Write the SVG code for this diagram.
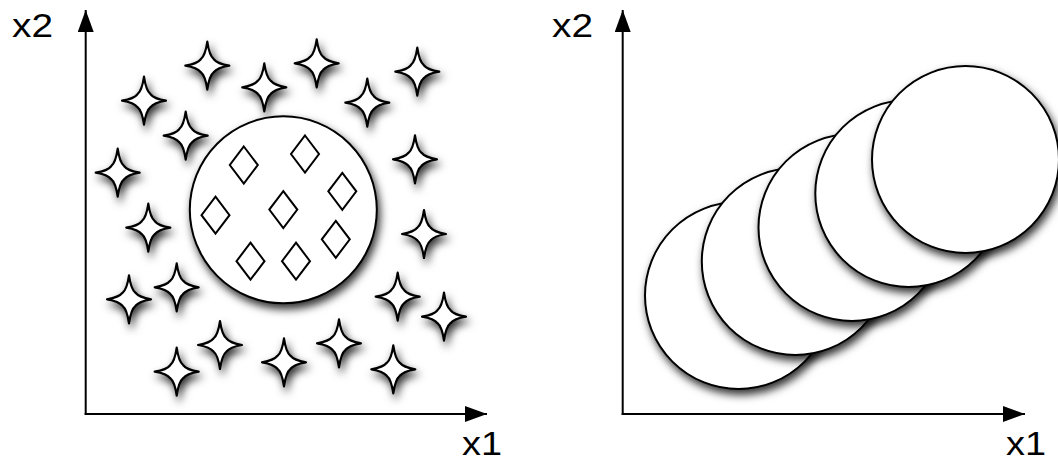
<svg xmlns="http://www.w3.org/2000/svg" xmlns:xlink="http://www.w3.org/1999/xlink" width="1058" height="462" viewBox="0 0 1058 462">
  <defs>
    <filter id="sh" x="-50%" y="-50%" width="200%" height="200%">
      <feDropShadow dx="2.5" dy="5" stdDeviation="4" flood-color="#000" flood-opacity="0.8"/>
    </filter>
    <path id="star" d="M0,-24 Q2,-10 6.5,-6.5 Q10,-2 22,0 Q10,2 6.5,6.5 Q2,10 0,24 Q-2,10 -6.5,6.5 Q-10,2 -22,0 Q-10,-2 -6.5,-6.5 Q-2,-10 0,-24 Z"/>
    <path id="dia" d="M0,-18.5 L14,0 L0,18.5 L-14,0 Z"/>
    <marker id="ah" viewBox="0 0 22 16" refX="22" refY="8" markerWidth="22" markerHeight="16" markerUnits="userSpaceOnUse" orient="auto">
      <path d="M0,0 L22,8 L0,16 Z" fill="#000"/>
    </marker>
  </defs>
  <style>
    .star { fill: #fff; stroke: #000; stroke-width: 2.2; stroke-linejoin: round; filter: url(#sh); }
    .dia { fill: #fff; stroke: #000; stroke-width: 2; }
    .blob { fill: #fff; stroke: #000; stroke-width: 2; filter: url(#sh); }
    .axis { fill: none; stroke: #000; stroke-width: 2; marker-end: url(#ah); }
    .lbl { font-family: "Liberation Sans", Arial, Helvetica, sans-serif; font-size: 33px; fill: #000; }
  </style>
  <rect width="1058" height="462" fill="#fff"/>

  <g id="connectors">
    <path class="axis" d="M85.7,415 L85.7,10"/>
    <path class="axis" d="M84.7,414 L487,414"/>
    <path class="axis" d="M622.7,415 L622.7,10"/>
    <path class="axis" d="M621.7,414 L1025,414"/>
  </g>

  <g id="labels">
    <text id="left-x2" class="lbl" x="12" y="37" textLength="41" lengthAdjust="spacingAndGlyphs">x2</text>
    <text id="left-x1" class="lbl" x="462" y="455" textLength="40" lengthAdjust="spacingAndGlyphs">x1</text>
    <text id="right-x2" class="lbl" x="552" y="37" textLength="41" lengthAdjust="spacingAndGlyphs">x2</text>
    <text id="right-x1" class="lbl" x="1006" y="455" textLength="40" lengthAdjust="spacingAndGlyphs">x1</text>
  </g>

  <g id="stars">
    <use id="star1" class="star" href="#star" xlink:href="#star" x="207.3" y="65.7"/>
    <use id="star2" class="star" href="#star" xlink:href="#star" x="144" y="100.7"/>
    <use id="star3" class="star" href="#star" xlink:href="#star" x="264.3" y="87.3"/>
    <use id="star4" class="star" href="#star" xlink:href="#star" x="316.7" y="63.3"/>
    <use id="star5" class="star" href="#star" xlink:href="#star" x="417.3" y="71.7"/>
    <use id="star6" class="star" href="#star" xlink:href="#star" x="367.3" y="102.7"/>
    <use id="star7" class="star" href="#star" xlink:href="#star" x="185.7" y="135.7"/>
    <use id="star8" class="star" href="#star" xlink:href="#star" x="117.7" y="172.7"/>
    <use id="star9" class="star" href="#star" xlink:href="#star" x="415" y="159.3"/>
    <use id="star10" class="star" href="#star" xlink:href="#star" x="148.3" y="227.7"/>
    <use id="star11" class="star" href="#star" xlink:href="#star" x="424" y="234"/>
    <use id="star12" class="star" href="#star" xlink:href="#star" x="129" y="299.3"/>
    <use id="star13" class="star" href="#star" xlink:href="#star" x="176.7" y="287.3"/>
    <use id="star14" class="star" href="#star" xlink:href="#star" x="397.7" y="296.7"/>
    <use id="star15" class="star" href="#star" xlink:href="#star" x="444" y="316.7"/>
    <use id="star16" class="star" href="#star" xlink:href="#star" x="220" y="345"/>
    <use id="star17" class="star" href="#star" xlink:href="#star" x="176.7" y="371.7"/>
    <use id="star18" class="star" href="#star" xlink:href="#star" x="284" y="362.3"/>
    <use id="star19" class="star" href="#star" xlink:href="#star" x="339" y="343.3"/>
    <use id="star20" class="star" href="#star" xlink:href="#star" x="393.3" y="369.3"/>
  </g>

  <g id="cluster">
    <circle class="blob" cx="283.3" cy="209.8" r="93.5"/>
    <use class="dia" href="#dia" xlink:href="#dia" x="243.8" y="165"/>
    <use class="dia" href="#dia" xlink:href="#dia" x="305" y="154"/>
    <use class="dia" href="#dia" xlink:href="#dia" x="342.3" y="191.3"/>
    <use class="dia" href="#dia" xlink:href="#dia" x="215.5" y="215.2"/>
    <use class="dia" href="#dia" xlink:href="#dia" x="283.3" y="209.6"/>
    <use class="dia" href="#dia" xlink:href="#dia" x="335.8" y="239.3"/>
    <use class="dia" href="#dia" xlink:href="#dia" x="250.5" y="261.2"/>
    <use class="dia" href="#dia" xlink:href="#dia" x="296" y="261.2"/>
  </g>

  <g id="circle1"><circle class="blob" cx="738.5" cy="295.5" r="93.5"/></g>
  <g id="circle2"><circle class="blob" cx="795.3" cy="261.5" r="93.5"/></g>
  <g id="circle3"><circle class="blob" cx="852" cy="227.5" r="93.5"/></g>
  <g id="circle4"><circle class="blob" cx="908.8" cy="193.5" r="93.5"/></g>
  <g id="circle5"><circle class="blob" cx="965.5" cy="159.5" r="93.5"/></g>
</svg>
